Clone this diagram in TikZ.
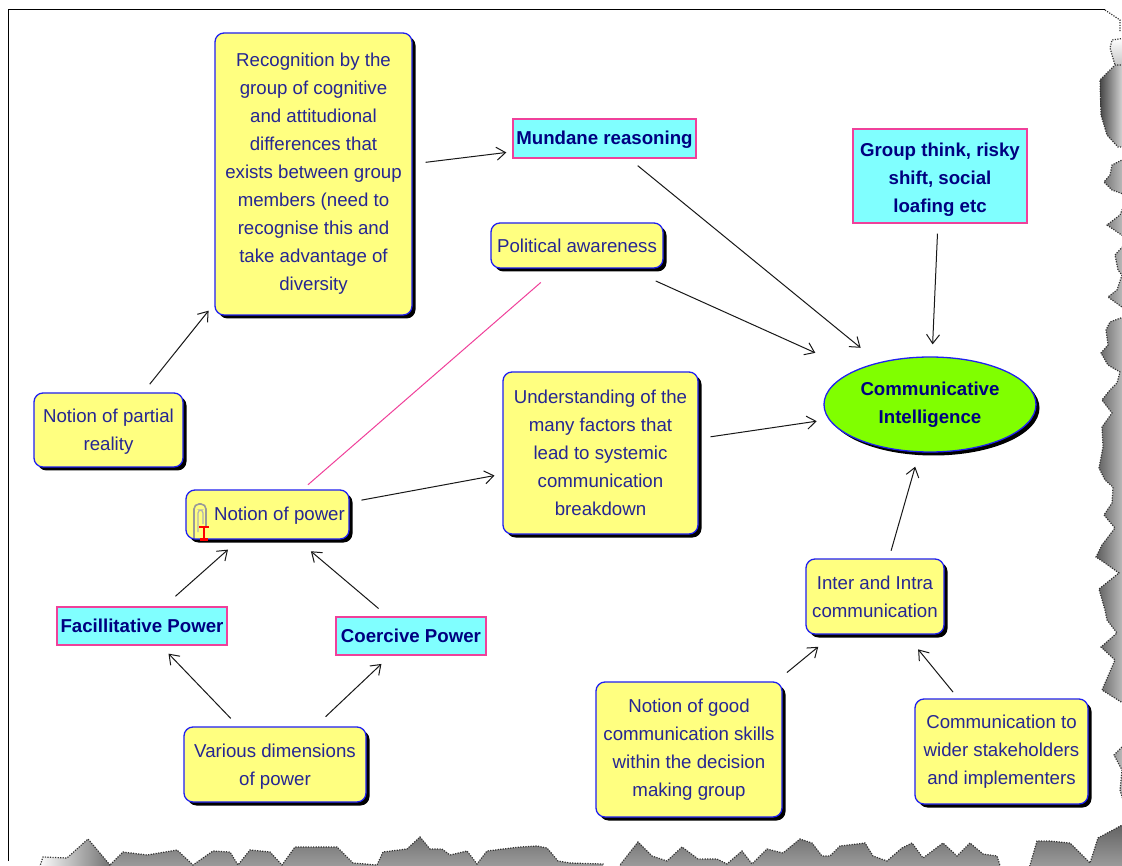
\documentclass[tikz,border=0pt]{standalone}
\usepackage{fontspec}
\setmainfont{Liberation Sans}
\usetikzlibrary{arrows.meta,shadows,shapes.geometric}
\def\px{0.75pt}
\def\drop#1{\rule{0pt}{#1}}
\definecolor{conceptyellow}{HTML}{FFFF80}
\definecolor{phrasecyan}{HTML}{80FFFF}
\definecolor{centregreen}{HTML}{80FF00}
\definecolor{borderblue}{HTML}{2020F0}
\definecolor{borderpink}{HTML}{F0409A}
\definecolor{textnavy}{HTML}{000080}
\definecolor{linkgrey}{HTML}{181818}
\tikzset{
	basetext/.style={text=textnavy, align=center, inner sep=0pt, font=\fontsize{14pt}{21pt}\selectfont},
	hardshadow/.style={general shadow={fill=black, shadow xshift=3.5*\px, shadow yshift=-3.5*\px}},
	concept/.style 2 args={basetext, hardshadow, rectangle, rounded corners=9*\px, draw=borderblue, fill=conceptyellow, line width=1.3*\px, minimum width=#1*\px, minimum height=#2*\px, text=textnavy!85!white},
	phrase/.style 2 args={basetext, rectangle, draw=borderpink, fill=phrasecyan, line width=1.4*\px, minimum width=#1*\px, minimum height=#2*\px, font=\fontsize{14pt}{21pt}\selectfont\bfseries},
	centre/.style 2 args={basetext, hardshadow, ellipse, draw=borderblue, fill=centregreen, line width=1.3*\px, minimum width=#1*\px, minimum height=#2*\px, font=\fontsize{14pt}{21pt}\selectfont\bfseries},
	link/.style={draw=linkgrey, line width=\px, -{Straight Barb[length=9*\px, width=13*\px]}},
	pinklink/.style={draw=borderpink, line width=\px},
	gap/.style 2 args={shorten <=#1*\px, shorten >=#2*\px},
	nudge/.style 2 args={transform canvas={xshift=#1*\px, yshift=-#2*\px}},
	tear/.style={draw=black!80, densely dotted, line width=1.2*\px}
}

\begin{document}
\begin{tikzpicture}[x=\px, y=-\px]
			\useasboundingbox (0, 0) rectangle (1122, 866);
			%%%%% PAPER EDGE %%%%%
			
			\fill[white] (0, 0) rectangle (1122, 866);
			\draw[black, line width=1.6*\px] (8.5, 861) -- (8.5, 9.7) -- (1105, 9.7);
			\draw[tear] (1105, 10) -- (1120, 20) -- (1120, 32);
			
			\shade[top color=white, bottom color=black!22] (1126, 38) -- (1112, 40) -- (1110, 48) -- (1115, 65) -- (1126, 65) -- cycle;
			\draw[tear] (1126, 38) -- (1112, 40) -- (1110, 48) -- (1115, 65);
			\shadedraw[tear, left color=black!72, right color=black!8] (1126, 65) -- (1115, 65) -- (1100, 80) -- (1101, 115) -- (1107, 135) -- (1118, 147) -- (1126, 147) -- cycle;
			\shadedraw[tear, left color=black!64, right color=black!22]
				(1126, 158) -- (1112, 165) -- (1110, 175) -- (1104, 182) -- (1112, 190) -- (1126, 195) --
				(1126, 200) -- (1120, 215) -- (1107, 225) -- (1126, 238) --
				(1126, 243) -- (1115, 255) -- (1118, 270) -- (1122, 275) -- (1117, 290) -- (1108, 297) -- (1126, 310) --
				(1126, 316) -- (1110, 322) -- (1106, 330) -- (1108, 345) -- (1101, 353) -- (1108, 365) -- (1120, 372) -- (1117, 383) -- (1110, 390) --
				(1102, 400) -- (1112, 413) -- (1102, 427) -- (1103, 447) -- (1099, 468) -- (1105, 480) -- (1113, 487) -- (1112, 503) -- (1104, 515) -- (1115, 528) -- (1102, 545) -- (1096, 557) -- (1105, 563) -- (1119, 573) -- (1099, 589) -- (1105, 610) -- (1107, 620) -- (1117, 633) -- (1101, 647) -- (1115, 660) -- (1102, 690) -- (1126, 705) --
				(1126, 743) -- (1114, 755) -- (1122, 770) -- (1120, 790) -- (1126, 810) -- cycle;
			
			\shadedraw[tear, left color=white, right color=black!55] (38, 872) -- (43, 857) -- (67, 858) -- (88, 839) -- (110, 865) -- (110, 872) -- cycle;
			\shadedraw[tear, top color=black!62, bottom color=black!36]
				(110, 872) -- (110, 865) -- (123, 852) -- (147, 855) -- (177, 850) -- (193, 865) -- (213, 851) -- (230, 852) -- (238, 865) -- (250, 850) -- (270, 852) -- (282, 865) -- (295, 847) -- (337, 847) -- (353, 863) -- (377, 865) -- (383, 852) -- (407, 849) -- (420, 837) -- (430, 849) -- (442, 849) -- (450, 855) -- (467, 851) -- (477, 864) -- (487, 851) -- (503, 849) -- (520, 847) -- (537, 846) -- (547, 848) -- (558, 861) -- (570, 863) -- (603, 864) -- (603, 872) --
				(620, 872) -- (620, 865) -- (638, 842) -- (652, 856) -- (667, 861) -- (682, 847) -- (698, 859) -- (717, 859) -- (727, 864) -- (742, 851) -- (752, 864) -- (767, 849) -- (783, 853) -- (800, 839) -- (812, 843) -- (822, 856) -- (830, 856) -- (840, 846) -- (865, 843) -- (873, 856) -- (887, 861) -- (902, 848) -- (912, 843) -- (923, 858) -- (943, 843) -- (957, 856) -- (970, 843) -- (983, 854) -- (997, 856) -- (1002, 872) --
				(1028, 872) -- (1037, 841) -- (1050, 841) -- (1070, 843) -- (1083, 856) -- (1090, 863) -- (1098, 838) -- (1126, 823) -- (1126, 872) -- cycle;
			
			%%%%% CONCEPTS %%%%%
			
			\node[concept={197}{282}] (recognition) at (313.5, 174) {Recognition by the\\group of cognitive\\and attitudional\\differences that\\exists between group\\members (need to\\recognise this and\\take advantage of\\diversity};
			\node[phrase={183}{39}] (mundane) at (604.5, 138.5) {\drop{12pt}Mundane reasoning};
			\node[phrase={174}{94}] (groupthink) at (940, 176) {\drop{15pt}Group think, risky\\shift, social\\loafing etc};
			\node[concept={172}{45}] (political) at (577, 245.5) {Political awareness};
			\node[concept={195}{162}] (factors) at (600.5, 453) {Understanding of the\\many factors that\\lead to systemic\\communication\\breakdown};
			\node[centre={212}{95}] (intelligence) at (930, 404.5) {Communicative\\Intelligence};
			\node[concept={149}{74}] (partial) at (108.5, 430) {\drop{13pt}Notion of partial\\reality};
			\node[concept={163}{49}] (power) at (267.5, 514.5) {\drop{12pt}\hspace*{18pt}Notion of power};
			\node[phrase={170}{38}] (facilitative) at (142, 626) {Facillitative Power};
			\node[phrase={150}{38}] (coercive) at (411, 636) {Coercive Power};
			\node[concept={182}{75}] (dimensions) at (275, 764.5) {\drop{13pt}Various dimensions\\of power};
			\node[concept={138}{75}] (inter) at (875, 596.5) {Inter and Intra\\communication};
			\node[concept={186}{135}] (skills) at (689, 749.5) {Notion of good\\communication skills\\within the decision\\making group};
			\node[concept={173}{105}] (stakeholders) at (1001.5, 751.5) {Communication to\\wider stakeholders\\and implementers};
			
			%%%%% ATTACHMENT MARK %%%%%
			
			\draw[black!40, line width=1.6*\px, rounded corners=5*\px] (194, 538) -- (194, 504) -- (206, 504) -- (206, 526);
			\draw[black!30, line width=1.2*\px, rounded corners=3*\px] (198, 532) -- (198, 510) -- (203, 510) -- (203, 524);
			\draw[red, line width=2.6*\px] (199, 527) -- (209, 527) (204, 527) -- (204, 539) (200, 539.5) -- (208, 539.5);
			
			%%%%% LINKS %%%%%
			
			\draw[link, gap={13}{14}, nudge={3}{2}] (partial) -- (recognition);
			\draw[link, gap={13}{6}, nudge={0}{2}] (recognition) -- (mundane);
			\draw[link, gap={11}{23}] (mundane) -- (intelligence);
			\draw[link, gap={30}{43}] (political) -- (intelligence);
			\draw[link, gap={12}{12}] (factors) -- (intelligence);
			\draw[link, gap={10}{12}] (groupthink) -- (intelligence);
			\draw[link, gap={8}{15}, nudge={3}{0}] (inter) -- (intelligence);
			\draw[link, gap={17}{16}, nudge={2}{2}] (skills) -- (inter);
			\draw[link, gap={8}{19}] (stakeholders) -- (inter);
			\draw[link, gap={12}{8}, nudge={0}{3}] (power) -- (factors);
			\draw[link, gap={15}{15}] (facilitative) -- (power);
			\draw[link, gap={12}{18}] (coercive) -- (power);
			\draw[link, gap={11}{11}] (dimensions) -- (facilitative);
			\draw[link, gap={14}{12}] (dimensions) -- (coercive);
			\draw[pinklink, gap={18}{10}, nudge={4}{2}] (political) -- (power);
			
			%%%%% END %%%%%
		\end{tikzpicture}
\end{document}
